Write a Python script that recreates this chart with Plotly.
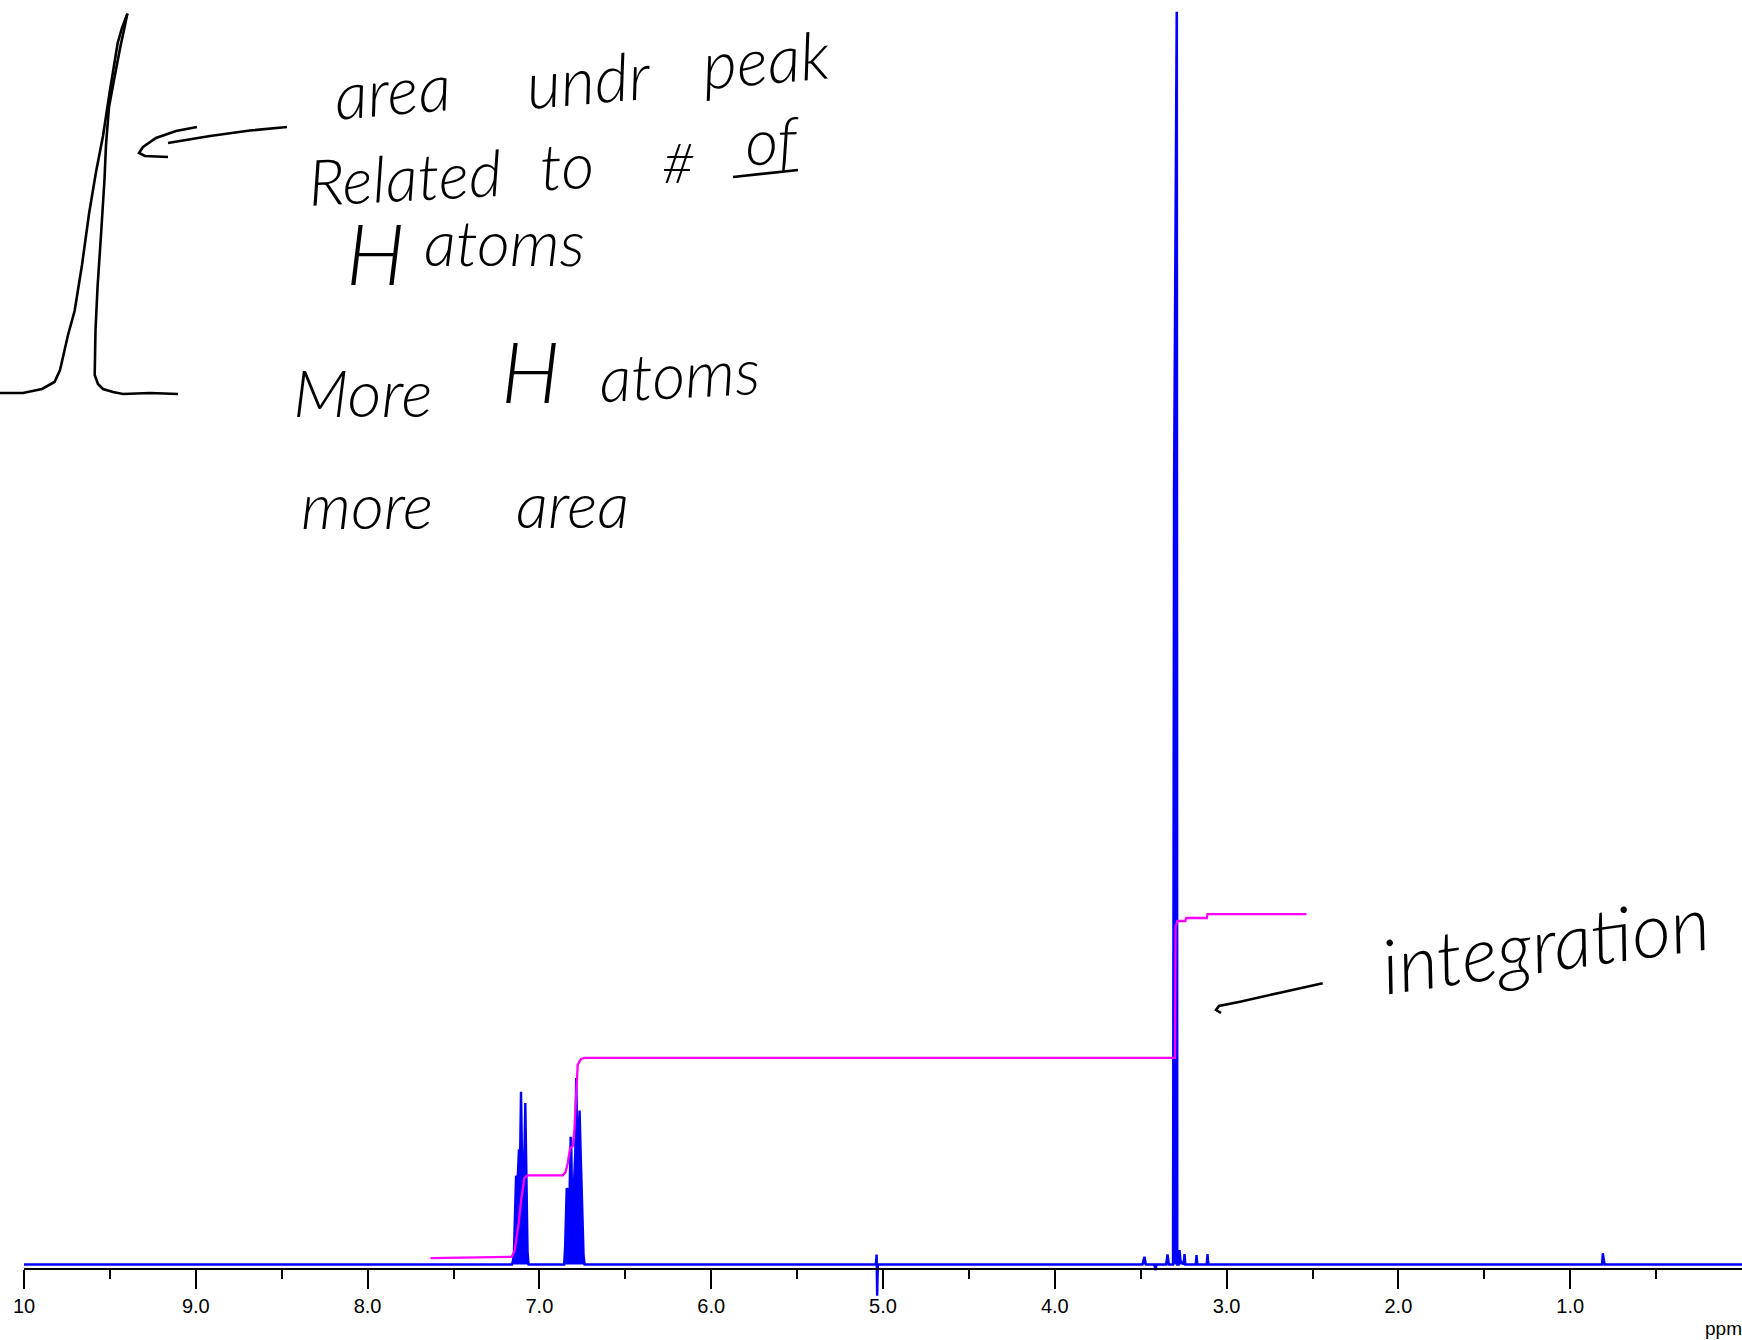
import plotly.graph_objects as go

W, H = 1742, 1340

# --- spectrum (ppm, intensity with tallest peak = 100) ---
arom_a_ppm = [7.160, 7.154, 7.148, 7.142, 7.136, 7.130, 7.125, 7.119, 7.113, 7.107,
              7.101, 7.095, 7.089, 7.082, 7.075, 7.069, 7.063]
arom_a_int = [0, 0.3, 1.0, 4.0, 7.0, 7.0, 7.2, 9.2, 8.0, 13.8,
              8.5, 9.0, 7.5, 12.9, 5.0, 1.0, 0]

arom_b_ppm = [6.856, 6.850, 6.845, 6.841, 6.836, 6.830, 6.824, 6.818, 6.814, 6.809,
              6.803, 6.797, 6.791, 6.786, 6.781, 6.776, 6.771, 6.766, 6.761, 6.755,
              6.749, 6.743, 6.737]
arom_b_int = [0, 1.5, 5.0, 6.1, 6.0, 4.6, 6.0, 10.2, 9.0, 4.6,
              5.0, 7.5, 9.0, 14.9, 9.0, 8.0, 9.0, 12.3, 9.5, 6.0,
              3.0, 0.8, 0]

p50_ppm = [5.042, 5.037, 5.034, 5.030]
p50_int = [0, 0.8, -2.5, 0]

p33_ppm = [3.490, 3.478, 3.470, 3.420, 3.414, 3.408, 3.352, 3.344, 3.336,
           3.312, 3.306, 3.2905, 3.2895, 3.287,
           3.279, 3.274, 3.268, 3.250, 3.245, 3.240,
           3.180, 3.175, 3.170, 3.116, 3.111, 3.106]
p33_int = [0, 0.62, 0, 0, -0.45, 0, 0, 0.8, 0,
           0, 62.0, 100.0, 100.0, 0,
           0, 1.16, 0.3, 0, 0.84, 0,
           0, 0.76, 0, 0, 0.84, 0]

p08_ppm = [0.815, 0.810, 0.805, 0.800]
p08_int = [0, 0.9, 0.2, 0]

# --- integration curve ---
integ_ppm = [7.634, 7.161, 7.145, 7.120, 7.106, 7.087, 7.068, 6.864, 6.848, 6.835,
             6.821, 6.806, 6.796, 6.786, 6.777, 6.757, 6.737, 3.300, 3.297, 3.286,
             3.240, 3.235, 3.115, 3.111, 2.535]
integ_val = [0.52, 0.62, 1.06, 3.33, 5.19, 6.92, 7.13, 7.13, 7.37, 8.12,
             9.32, 9.45, 10.78, 13.18, 15.97, 16.43, 16.51, 16.51, 26.97, 27.45,
             27.45, 27.69, 27.69, 28.0, 28.0]

tick_vals = [10, 9, 8, 7, 6, 5, 4, 3, 2, 1]
tick_text = ["10", "9.0", "8.0", "7.0", "6.0", "5.0", "4.0", "3.0", "2.0", "1.0"]
minor_vals = [9.5, 8.5, 7.5, 6.5, 5.5, 4.5, 3.5, 2.5, 1.5, 0.5]

spec_ppm = [10.0] + arom_a_ppm + arom_b_ppm + p50_ppm + p33_ppm + p08_ppm + [0.0]
spec_int = [0] + arom_a_int + arom_b_int + p50_int + p33_int + p08_int + [0]

fig = go.Figure()
fig.add_trace(go.Scatter(x=spec_ppm, y=spec_int, mode="lines",
                         line=dict(color="#0000FF", width=2.4),
                         fill="tozeroy", fillcolor="#0000FF", hoverinfo="skip"))
fig.add_trace(go.Scatter(x=integ_ppm, y=integ_val, mode="lines",
                         line=dict(color="#FF00FF", width=2.3), hoverinfo="skip"))


def pp(x, y):
    # pixel -> paper
    return f"{x / W:.5f},{1 - y / H:.5f}"


def stroke(points):
    d = "M " + " L ".join(pp(x, y) for x, y in points)
    return dict(type="path", xref="paper", yref="paper", path=d,
                line=dict(color="black", width=2.6))


# hand drawn sketch of a peak, arrow and pointer
peak_left = [(0, 393), (23, 393), (42, 389), (54.5, 382), (60, 370), (63, 357), (68, 335),
             (74.6, 311), (82, 265), (89, 214), (96, 172), (103, 136), (110, 90),
             (117.7, 43), (122, 28), (127.4, 13.6)]
peak_right = [(127.4, 13.6), (124, 30), (120.5, 46), (114, 80), (109, 107), (106, 145),
              (104.5, 179), (101, 235), (97.6, 286), (95.5, 330), (94.7, 375), (98, 384),
              (103, 389), (113, 392), (123, 394), (150, 393), (178, 394)]
arrow_shaft = [(287, 127), (250, 130.5), (210, 136), (168, 143)]
arrow_head = [(197, 127), (176, 131), (156, 138), (143, 147), (139, 153), (145, 156), (168, 157)]
of_bar = [(733, 177), (798, 170)]
pointer = [(1221, 1013), (1216, 1010), (1219, 1006), (1240, 1001.7), (1280, 992.7), (1322.7, 983.3)]

shapes = [stroke(s) for s in [peak_left, peak_right, arrow_shaft, arrow_head, of_bar, pointer]]

# handwritten notes: text, x, y (pixel centre of the letters), size, angle
notes = [
    ("area", 392, 98, 66, -5), ("undr", 588, 87, 66, -5), ("peak", 765, 67, 66, -5),
    ("Related", 404, 185, 64, -3), ("to", 567, 173, 64, -3), ("#", 678, 161, 56, 0),
    ("of", 772, 148, 64, -3),
    ("H", 375, 252, 84, 0), ("atoms", 505, 250, 64, 0),
    ("More", 362, 400, 66, 0), ("H", 530, 371, 84, 0), ("atoms", 679, 382, 64, -3),
    ("more", 367, 513, 64, 0), ("area", 572, 512, 64, 0),
    ("integration", 1545, 952, 76, -8),
]

annotations = []
for text, x, y, size, ang in notes:
    shift = 0 if text in ("H", "#") else 0.13 * size
    annotations.append(dict(
        text=text, xref="paper", yref="paper", x=x / W, y=1 - (y - shift) / H,
        xanchor="center", yanchor="middle", showarrow=False, textangle=ang,
        font=dict(family="Lato", size=size, color="black", weight=300, style="italic")))

annotations.append(dict(text="ppm", xref="paper", yref="paper", x=1703 / W, y=1 - 1328 / H,
                        xanchor="left", yanchor="middle", showarrow=False,
                        font=dict(family="Liberation Sans Narrow, Liberation Sans, Arial, sans-serif",
                                  size=19, color="black")))

fig.update_layout(
    width=W, height=H,
    margin=dict(l=0, r=0, t=0, b=0, pad=0, autoexpand=False),
    paper_bgcolor="white", plot_bgcolor="white",
    showlegend=False,
    shapes=shapes,
    annotations=annotations,
    xaxis=dict(domain=[24 / W, 1], range=[10, 0], anchor="free", position=1 - 1269 / H,
               automargin=False,
               showline=True, linecolor="black", linewidth=2,
               ticks="outside", ticklen=19, tickwidth=2, tickcolor="black",
               tickmode="array", tickvals=tick_vals, ticktext=tick_text,
               tickfont=dict(family="Liberation Sans Narrow, Liberation Sans, Arial, sans-serif",
                             size=20, color="black"),
               showgrid=False, zeroline=False,
               minor=dict(tickmode="array", tickvals=minor_vals, ticks="outside",
                          ticklen=9, tickwidth=2, tickcolor="black", showgrid=False)),
    yaxis=dict(domain=[0, 1], range=[-6.03, 101.04], visible=False, automargin=False),
)

fig.write_html("out.html", config={"displayModeBar": False},
               post_script="document.body.style.margin='0px';")
